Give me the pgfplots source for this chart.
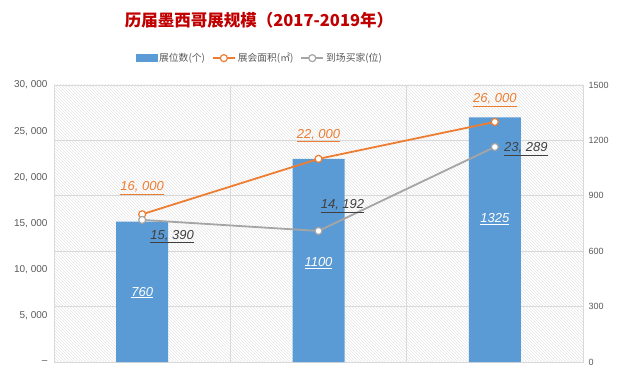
\documentclass[border=0pt]{standalone}
\usepackage{pgfplots}
\pgfplotsset{compat=1.18}
\usepackage{pgfplotstable}
\usepackage{fontspec}
\setmainfont{Liberation Sans}
\newfontfamily\cjk{Noto Sans CJK SC}
\usetikzlibrary{patterns}
\definecolor{cblue}{HTML}{5B9BD5}
\definecolor{corange}{HTML}{ED7D31}
\definecolor{cgray}{HTML}{A5A5A5}
\definecolor{ctick}{HTML}{595959}
\definecolor{cgrid}{HTML}{D9D9D9}
\definecolor{ctitle}{HTML}{C00000}
\definecolor{cdark}{HTML}{404040}

\pgfplotstableread[col sep=semicolon]{
x;y;dx;dy;label
0;760;0;-71;760
1;1100;0;-104;1100
2;1325;0;-102;1325
}\bartab
\pgfplotstableread[col sep=semicolon]{
x;y;dx;dy;label
0;16000;0;26;16, 000
1;22000;0;23;22, 000
2;26000;0;22;26, 000
}\areatab
\pgfplotstableread[col sep=semicolon]{
x;y;dx;dy;label
0;15390;30;-17;15, 390
1;14192;24;25;14, 192
2;23289;31;-2;23, 289
}\buyertab

\begin{document}
\begin{tikzpicture}
\path[use as bounding box] (0pt,0pt) rectangle (624pt,378pt);
\node[font=\cjk\bfseries\fontsize{16.5}{18}\selectfont, text=ctitle] at (259pt,358pt) {历届墨西哥展规模（2017-2019年）};
% bars, right axis
\begin{axis}[
  at={(54pt,16pt)}, anchor=south west, scale only axis,
  width=529pt, height=277pt,
  xmin=-0.5, xmax=2.5, ymin=0, ymax=1500,
  xtick={0.5,1.5}, xticklabels={}, xmajorgrids,
  ytick={0,300,600,900,1200,1500},
  yticklabels={0,300,600,900,1200,1500},
  ymajorgrids, yticklabel pos=right,
  major tick length=0,
  axis line style={cgrid}, grid style={cgrid, line width=0.6pt},
  axis background/.style={pattern=north west lines, pattern color=gray!20},
  yticklabel style={font=\fontsize{9}{10}\selectfont, text=ctick, xshift=2pt},
]
\addplot[ybar, bar width=52pt, fill=cblue, draw=none,
  point meta=explicit symbolic,
  visualization depends on={\thisrow{dy}\as\dy},
  nodes near coords={\underline{\textit{\pgfplotspointmeta}}},
  nodes near coords style={anchor=center, yshift=\dy, text=white, font=\fontsize{13}{14}\selectfont},
] table[x=x, y=y, meta=label] {\bartab};
\end{axis}
% lines, left axis
\begin{axis}[
  at={(54pt,16pt)}, anchor=south west, scale only axis,
  width=529pt, height=277pt,
  xmin=-0.5, xmax=2.5, ymin=0, ymax=30000,
  xtick=\empty, scaled y ticks=false,
  ytick={0,5000,10000,15000,20000,25000,30000},
  yticklabels={{--},{5, 000},{10, 000},{15, 000},{20, 000},{25, 000},{30, 000}},
  major tick length=0,
  axis line style={draw=none},
  yticklabel style={font=\fontsize{10}{11}\selectfont, text=ctick, xshift=-3pt},
  clip=false,
  legend columns=3,
  legend style={at={(0.389,1.097)}, anchor=center, draw=none, fill=none,
    font=\cjk\fontsize{9.8}{10}\selectfont, text=ctick,
    /tikz/every even column/.append style={column sep=5pt}},
  legend image code/.code={\draw[mark repeat=2,mark phase=2,#1] plot coordinates {(0pt,0pt)(11pt,0pt)(22pt,0pt)};},
]
\addlegendimage{legend image code/.code={\fill[cblue] (0pt,-3.5pt) rectangle (21pt,3.5pt);}}
\addlegendentry{展位数(个)}
\addplot[corange, line width=1.8pt, mark=*, mark size=3.5pt,
  mark options={fill=white, draw=corange, line width=1.2pt},
  point meta=explicit symbolic,
  visualization depends on={\thisrow{dx}\as\dx},
  visualization depends on={\thisrow{dy}\as\dy},
  nodes near coords={\underline{\textit{\pgfplotspointmeta}}},
  nodes near coords style={anchor=center, xshift=\dx, yshift=\dy, text=corange, font=\fontsize{13}{14}\selectfont},
] table[x=x, y=y, meta=label] {\areatab};
\addlegendentry{展会面积(㎡)}
\addplot[cgray, line width=1.8pt, mark=*, mark size=3.5pt,
  mark options={fill=white, draw=cgray, line width=1.2pt},
  point meta=explicit symbolic,
  visualization depends on={\thisrow{dx}\as\dx},
  visualization depends on={\thisrow{dy}\as\dy},
  nodes near coords={\underline{\textit{\pgfplotspointmeta}}},
  nodes near coords style={anchor=center, xshift=\dx, yshift=\dy, text=cdark, font=\fontsize{13}{14}\selectfont},
] table[x=x, y=y, meta=label] {\buyertab};
\addlegendentry{到场买家(位)}
\end{axis}
\end{tikzpicture}
\end{document}
